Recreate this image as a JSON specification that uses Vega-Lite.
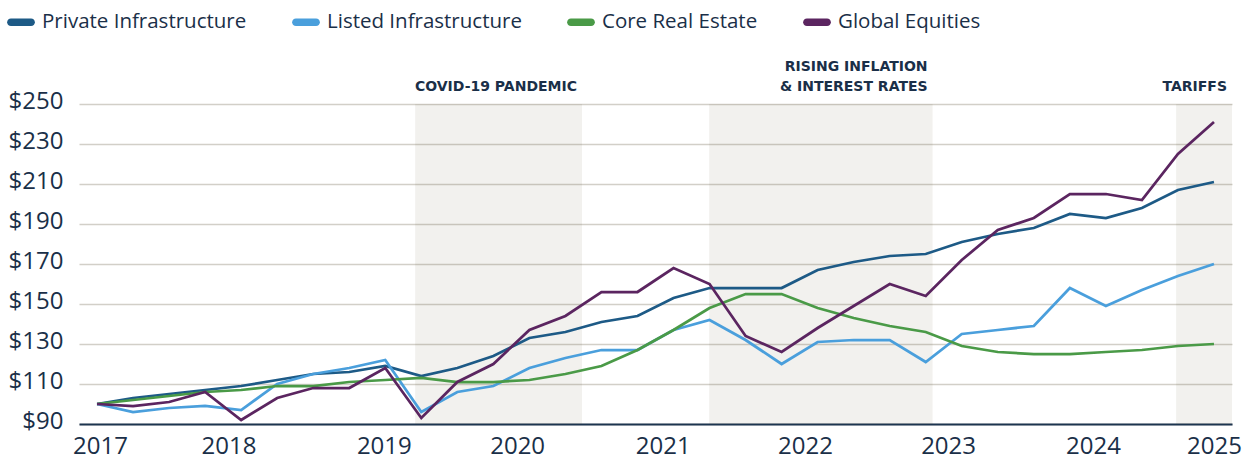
{
  "$schema": "https://vega.github.io/schema/vega-lite/v6.json",
  "width": 1153,
  "height": 320,
  "autosize": {"type": "none"},
  "padding": {"left": 79, "top": 104, "right": 12, "bottom": 35},
  "background": "white",
  "config": {"view": {"stroke": null}, "font": "Open Sans"},
  "datasets": {
    "periods": [
      {"start": 8.83, "end": 13.46, "label": "COVID-19 PANDEMIC", "label_top": ""},
      {"start": 16.99, "end": 23.19, "label": "& INTEREST RATES", "label_top": "RISING INFLATION"},
      {"start": 29.95, "end": 31.5, "label": "TARIFFS", "label_top": ""}
    ],
    "series": [
      {"t":0,"series":"Private Infrastructure","value":100},{"t":1,"series":"Private Infrastructure","value":103},{"t":2,"series":"Private Infrastructure","value":105},{"t":3,"series":"Private Infrastructure","value":107},{"t":4,"series":"Private Infrastructure","value":109},{"t":5,"series":"Private Infrastructure","value":112},{"t":6,"series":"Private Infrastructure","value":115},{"t":7,"series":"Private Infrastructure","value":116},{"t":8,"series":"Private Infrastructure","value":119},{"t":9,"series":"Private Infrastructure","value":114},{"t":10,"series":"Private Infrastructure","value":118},{"t":11,"series":"Private Infrastructure","value":124},{"t":12,"series":"Private Infrastructure","value":133},{"t":13,"series":"Private Infrastructure","value":136},{"t":14,"series":"Private Infrastructure","value":141},{"t":15,"series":"Private Infrastructure","value":144},{"t":16,"series":"Private Infrastructure","value":153},{"t":17,"series":"Private Infrastructure","value":158},{"t":18,"series":"Private Infrastructure","value":158},{"t":19,"series":"Private Infrastructure","value":158},{"t":20,"series":"Private Infrastructure","value":167},{"t":21,"series":"Private Infrastructure","value":171},{"t":22,"series":"Private Infrastructure","value":174},{"t":23,"series":"Private Infrastructure","value":175},{"t":24,"series":"Private Infrastructure","value":181},{"t":25,"series":"Private Infrastructure","value":185},{"t":26,"series":"Private Infrastructure","value":188},{"t":27,"series":"Private Infrastructure","value":195},{"t":28,"series":"Private Infrastructure","value":193},{"t":29,"series":"Private Infrastructure","value":198},{"t":30,"series":"Private Infrastructure","value":207},{"t":31,"series":"Private Infrastructure","value":211},
      {"t":0,"series":"Listed Infrastructure","value":100},{"t":1,"series":"Listed Infrastructure","value":96},{"t":2,"series":"Listed Infrastructure","value":98},{"t":3,"series":"Listed Infrastructure","value":99},{"t":4,"series":"Listed Infrastructure","value":97},{"t":5,"series":"Listed Infrastructure","value":110},{"t":6,"series":"Listed Infrastructure","value":115},{"t":7,"series":"Listed Infrastructure","value":118},{"t":8,"series":"Listed Infrastructure","value":122},{"t":9,"series":"Listed Infrastructure","value":96},{"t":10,"series":"Listed Infrastructure","value":106},{"t":11,"series":"Listed Infrastructure","value":109},{"t":12,"series":"Listed Infrastructure","value":118},{"t":13,"series":"Listed Infrastructure","value":123},{"t":14,"series":"Listed Infrastructure","value":127},{"t":15,"series":"Listed Infrastructure","value":127},{"t":16,"series":"Listed Infrastructure","value":137},{"t":17,"series":"Listed Infrastructure","value":142},{"t":18,"series":"Listed Infrastructure","value":132},{"t":19,"series":"Listed Infrastructure","value":120},{"t":20,"series":"Listed Infrastructure","value":131},{"t":21,"series":"Listed Infrastructure","value":132},{"t":22,"series":"Listed Infrastructure","value":132},{"t":23,"series":"Listed Infrastructure","value":121},{"t":24,"series":"Listed Infrastructure","value":135},{"t":25,"series":"Listed Infrastructure","value":137},{"t":26,"series":"Listed Infrastructure","value":139},{"t":27,"series":"Listed Infrastructure","value":158},{"t":28,"series":"Listed Infrastructure","value":149},{"t":29,"series":"Listed Infrastructure","value":157},{"t":30,"series":"Listed Infrastructure","value":164},{"t":31,"series":"Listed Infrastructure","value":170},
      {"t":0,"series":"Core Real Estate","value":100},{"t":1,"series":"Core Real Estate","value":102},{"t":2,"series":"Core Real Estate","value":104},{"t":3,"series":"Core Real Estate","value":106},{"t":4,"series":"Core Real Estate","value":107},{"t":5,"series":"Core Real Estate","value":109},{"t":6,"series":"Core Real Estate","value":109},{"t":7,"series":"Core Real Estate","value":111},{"t":8,"series":"Core Real Estate","value":112},{"t":9,"series":"Core Real Estate","value":113},{"t":10,"series":"Core Real Estate","value":111},{"t":11,"series":"Core Real Estate","value":111},{"t":12,"series":"Core Real Estate","value":112},{"t":13,"series":"Core Real Estate","value":115},{"t":14,"series":"Core Real Estate","value":119},{"t":15,"series":"Core Real Estate","value":127},{"t":16,"series":"Core Real Estate","value":137},{"t":17,"series":"Core Real Estate","value":148},{"t":18,"series":"Core Real Estate","value":155},{"t":19,"series":"Core Real Estate","value":155},{"t":20,"series":"Core Real Estate","value":148},{"t":21,"series":"Core Real Estate","value":143},{"t":22,"series":"Core Real Estate","value":139},{"t":23,"series":"Core Real Estate","value":136},{"t":24,"series":"Core Real Estate","value":129},{"t":25,"series":"Core Real Estate","value":126},{"t":26,"series":"Core Real Estate","value":125},{"t":27,"series":"Core Real Estate","value":125},{"t":28,"series":"Core Real Estate","value":126},{"t":29,"series":"Core Real Estate","value":127},{"t":30,"series":"Core Real Estate","value":129},{"t":31,"series":"Core Real Estate","value":130},
      {"t":0,"series":"Global Equities","value":100},{"t":1,"series":"Global Equities","value":99},{"t":2,"series":"Global Equities","value":101},{"t":3,"series":"Global Equities","value":106},{"t":4,"series":"Global Equities","value":92},{"t":5,"series":"Global Equities","value":103},{"t":6,"series":"Global Equities","value":108},{"t":7,"series":"Global Equities","value":108},{"t":8,"series":"Global Equities","value":118},{"t":9,"series":"Global Equities","value":93},{"t":10,"series":"Global Equities","value":111},{"t":11,"series":"Global Equities","value":120},{"t":12,"series":"Global Equities","value":137},{"t":13,"series":"Global Equities","value":144},{"t":14,"series":"Global Equities","value":156},{"t":15,"series":"Global Equities","value":156},{"t":16,"series":"Global Equities","value":168},{"t":17,"series":"Global Equities","value":160},{"t":18,"series":"Global Equities","value":134},{"t":19,"series":"Global Equities","value":126},{"t":20,"series":"Global Equities","value":138},{"t":21,"series":"Global Equities","value":149},{"t":22,"series":"Global Equities","value":160},{"t":23,"series":"Global Equities","value":154},{"t":24,"series":"Global Equities","value":172},{"t":25,"series":"Global Equities","value":187},{"t":26,"series":"Global Equities","value":193},{"t":27,"series":"Global Equities","value":205},{"t":28,"series":"Global Equities","value":205},{"t":29,"series":"Global Equities","value":202},{"t":30,"series":"Global Equities","value":225},{"t":31,"series":"Global Equities","value":241}
    ]
  },
  "layer": [
    {
      "data": {"name": "periods"},
      "mark": {"type": "rect", "fill": "#5d502b", "opacity": 0.08},
      "encoding": {
        "x": {"field": "start", "type": "quantitative", "scale": {"domain": [-0.5, 31.5], "nice": false, "zero": false}},
        "x2": {"field": "end"},
        "y": {"datum": 250, "type": "quantitative", "scale": {"domain": [90, 250], "nice": false, "zero": false}},
        "y2": {"datum": 90}
      }
    },
    {
      "data": {"name": "series"},
      "mark": {"type": "line", "strokeWidth": 2.75},
      "encoding": {
        "x": {
          "field": "t", "type": "quantitative",
          "scale": {"domain": [-0.5, 31.5], "nice": false, "zero": false},
          "axis": {
            "title": null,
            "values": [0.08, 3.65, 7.96, 11.66, 15.7, 19.65, 23.62, 27.64, 31],
            "tickCount": 40,
            "labelExpr": "'' + (2017 + round(datum.value / 3.875))",
            "labelFont": "Open Sans", "labelFontSize": 24, "labelColor": "#1a2f48",
            "labelPadding": 10, "ticks": false, "grid": false,
            "domainColor": "#1c3550", "domainWidth": 2,
            "labelOverlap": false, "labelBound": false, "labelFlush": false
          }
        },
        "y": {
          "field": "value", "type": "quantitative",
          "scale": {"domain": [90, 250], "nice": false, "zero": false},
          "axis": {
            "title": null,
            "values": [90, 110, 130, 150, 170, 190, 210, 230, 250],
            "tickCount": 20,
            "labelExpr": "'$' + datum.value",
            "labelFont": "Open Sans", "labelFontSize": 24, "labelColor": "#1a2f48",
            "labelPadding": 16, "labelOffset": -3, "ticks": false, "domain": false,
            "grid": true, "gridColor": "#d2cfc8", "gridWidth": 1.5,
            "labelOverlap": false, "labelBound": false
          }
        },
        "color": {
          "field": "series", "type": "nominal",
          "scale": {
            "domain": ["Private Infrastructure", "Listed Infrastructure", "Core Real Estate", "Global Equities"],
            "range": ["#1d5a86", "#4a9fdc", "#4a9a47", "#5b2560"]
          },
          "legend": {
            "orient": "none", "legendX": -72, "legendY": -96,
            "direction": "horizontal", "title": null,
            "symbolType": "M-0.72,-0.27L0.72,-0.27A0.27,0.27 0 0 1 0.72,0.27L-0.72,0.27A0.27,0.27 0 0 1 -0.72,-0.27Z",
            "symbolSize": 784, "symbolStrokeWidth": 0,
            "labelFont": "Open Sans", "labelFontSize": 20.5, "labelColor": "#1a2f48", "labelLimit": 400,
            "labelOffset": 7, "columnPadding": 45, "padding": 0,
            "encode": {"symbols": {"update": {"fill": {"scale": "color", "field": "value"}, "opacity": {"value": 1}}}}
          }
        }
      }
    },
    {
      "data": {"name": "periods"},
      "mark": {"type": "text", "align": "right", "baseline": "bottom", "dx": -5, "dy": -10, "font": "DejaVu Sans", "fontWeight": "bold", "fontSize": 14, "fill": "#1a2f48"},
      "encoding": {
        "x": {"field": "end", "type": "quantitative", "scale": {"domain": [-0.5, 31.5], "nice": false, "zero": false}},
        "y": {"datum": 250, "type": "quantitative", "scale": {"domain": [90, 250], "nice": false, "zero": false}},
        "text": {"field": "label"}
      }
    },
    {
      "data": {"name": "periods"},
      "mark": {"type": "text", "align": "right", "baseline": "bottom", "dx": -5, "dy": -30, "font": "DejaVu Sans", "fontWeight": "bold", "fontSize": 14, "fill": "#1a2f48"},
      "encoding": {
        "x": {"field": "end", "type": "quantitative", "scale": {"domain": [-0.5, 31.5], "nice": false, "zero": false}},
        "y": {"datum": 250, "type": "quantitative", "scale": {"domain": [90, 250], "nice": false, "zero": false}},
        "text": {"field": "label_top"}
      }
    }
  ]
}
